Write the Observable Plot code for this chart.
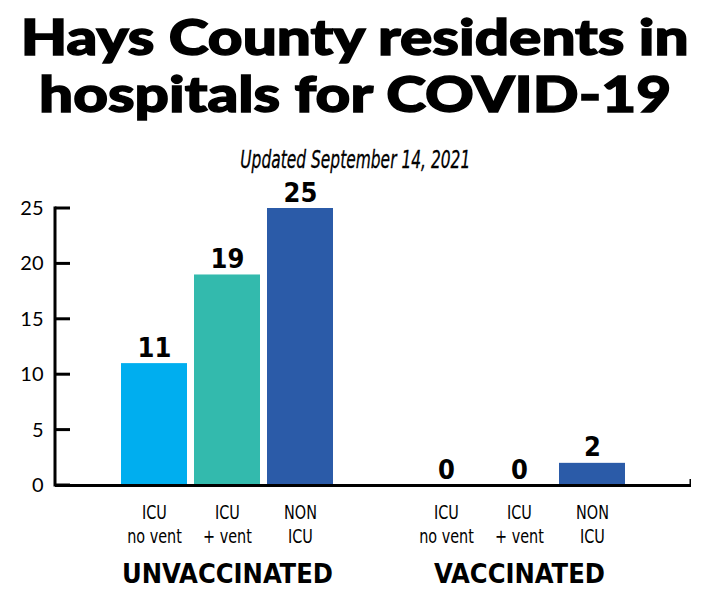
<!DOCTYPE html>
<html>
<head>
<meta charset="utf-8">
<script src="https://cdn.jsdelivr.net/npm/d3@7"></script>
<script src="https://cdn.jsdelivr.net/npm/@observablehq/plot@0.6"></script>
<style>
  body { margin:0; width:710px; height:600px; background:#fff; position:relative; overflow:hidden; }
  .tline { position:absolute; left:0; width:710px; text-align:center; font-family:"Lato","Inter",sans-serif; font-weight:900; font-size:49px; line-height:57px; color:#000; -webkit-text-stroke:1.4px #000; white-space:nowrap; }
  .tline span, #sub span { display:inline-block; transform-origin:center; }
  #t1 { top:8px; }
  #t2 { top:65px; }
  #sub { position:absolute; left:0; top:146px; width:710px; text-align:center; font-family:"DejaVu Sans Condensed","DejaVu Sans",sans-serif; font-stretch:condensed; font-style:italic; font-size:25px; line-height:28px; color:#000; white-space:nowrap; -webkit-text-stroke:0.3px #000; }
  #chart { position:absolute; left:0; top:175px; }
</style>
</head>
<body>
<div class="tline" id="t1"><span>Hays County residents in</span></div>
<div class="tline" id="t2"><span>hospitals for COVID-19</span></div>
<div id="sub"><span>Updated September 14, 2021</span></div>
<div id="chart"></div>
<script>
const categories = ["u1","u2","u3","gap","v1","v2","v3"];
const tickLabels = ["ICU\nno vent","ICU\n+ vent","NON\nICU","","ICU\nno vent","ICU\n+ vent","NON\nICU"];
const types = ["ICU no vent","ICU + vent","NON ICU"];
const groups = ["UNVACCINATED","VACCINATED"];
const unvaccinated = [11,19,25];
const vaccinated = [0,0,2];
const yTicks = [0,5,10,15,20,25];
const colors = ["#00AEEF","#33BAAD","#2B5BA8"];

// fit title lines horizontally like the reference's wide heavy face
(function fitTitle(){
  const s1 = document.querySelector("#t1 span");
  const s2 = document.querySelector("#t2 span");
  const k = 668 / s1.getBoundingClientRect().width;
  s1.style.transform = `scaleX(${k})`;
  s2.style.transform = `scaleX(${k})`;
  const ss = document.querySelector("#sub span");
  ss.style.transform = `scaleX(${230 / ss.getBoundingClientRect().width})`;
})();

const narrow = "'DejaVu Sans Condensed','DejaVu Sans',sans-serif";
const rows = [];
[unvaccinated, vaccinated].forEach((vals, g) => {
  vals.forEach((v, i) => rows.push({key: categories[g*4+i], type: types[i], value: v}));
});
const groupRows = groups.map((name, g) => ({name, key: categories[g*4+1]}));

const mL = 55, mR = 19, mT = 33, mB = 115;
const chart = Plot.plot({
  width: 710,
  height: 425,
  marginLeft: mL,
  marginRight: mR,
  marginTop: mT,
  marginBottom: mB,
  x: {domain: categories, paddingInner: 0.096, paddingOuter: 0.904, axis: null},
  y: {domain: [0, 25], axis: null},
  color: {domain: types, range: colors},
  marks: [
    Plot.barY(rows, {x: "key", y: "value", fill: "type"}),
    Plot.text(rows, {x: "key", y: "value", text: d => String(d.value), dy: -7, lineAnchor: "bottom", fontSize: 27, fontWeight: "bold", fontFamily: narrow, fill: "#000", ariaLabel: "value label"}),
    Plot.axisX({tickSize: 0, tickPadding: 16, tickFormat: d => tickLabels[categories.indexOf(d)], fontSize: 20, lineHeight: 1.2, fontFamily: narrow, fill: "#000", stroke: "#000", strokeWidth: 0.5, label: null}),
    Plot.text(groupRows, {x: "key", y: () => 0, text: "name", dy: 89, lineAnchor: "middle", fontSize: 27, fontWeight: "bold", fontFamily: narrow, fill: "#000", ariaLabel: "group label"}),
    Plot.ruleY([0], {strokeWidth: 3, stroke: "#000"}),
    Plot.axisY({ticks: yTicks, tickSize: 0, tickPadding: 12, fontSize: 20, fontFamily: "Lato, sans-serif", fill: "#000", label: null})
  ]
});
chart.style.overflow = "visible";
document.getElementById("chart").appendChild(chart);

// condense the narrow texts (reference uses a condensed face)
function condense(sel, kx, ky = 1) {
  chart.querySelectorAll(sel).forEach(t => {
    let tr = t.getAttribute("transform");
    if (!tr) {
      const x = t.getAttribute("x") || 0, y = t.getAttribute("y") || 0;
      t.removeAttribute("x"); t.removeAttribute("y");
      tr = `translate(${x},${y})`;
    }
    t.setAttribute("transform", `${tr} scale(${kx},${ky})`);
  });
}
condense('g[aria-label="value label"] text', 0.88);
condense('g[aria-label="group label"] text', 0.82);
condense('g[aria-label="x-axis tick label"] text', 0.8);

// axis line, inward ticks and the small end tick, placed with the chart's own y scale
const ys = chart.scale("y");
const y = d3.scaleLinear(ys.domain, ys.range);
const svg = d3.select(chart);
const g = svg.append("g").attr("stroke", "#000");
g.append("line").attr("x1", mL).attr("x2", mL).attr("y1", y(0) + 1.5).attr("y2", y(25) - 1.5).attr("stroke-width", 3);
g.selectAll("line.tk").data(yTicks).join("line").attr("class", "tk")
  .attr("x1", mL).attr("x2", mL + 15).attr("y1", d => y(d)).attr("y2", d => y(d)).attr("stroke-width", 3);
g.append("line").attr("x1", 710 - mR - 0.75).attr("x2", 710 - mR - 0.75).attr("y1", y(0) + 1.5).attr("y2", y(0) - 6)
  .attr("stroke-width", 1.5);
</script>
</body>
</html>
